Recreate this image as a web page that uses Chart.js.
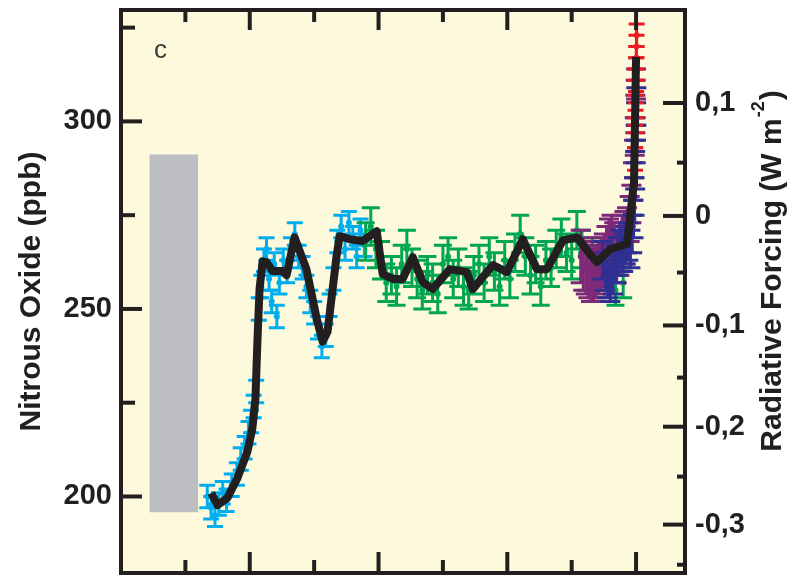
<!DOCTYPE html>
<html lang="en">
<head>
<meta charset="UTF-8">
<title>Nitrous Oxide</title>
<style>
    body { margin: 0; background: #fff; }
    #wrap { width: 792px; height: 577px; }
</style>
</head>
<body>
<div id="wrap"><canvas id="myChart" width="792" height="577"></canvas></div>

<script src="https://cdn.jsdelivr.net/npm/chart.js@4/dist/chart.umd.min.js"></script>
<script>
    // smoothed record (years relative to present, ppb)
    const blackYears = [-16500, -16250, -15870, -15480, -15090, -14900, -14780, -14700, -14620, -14500,
        -14350, -14120, -13730, -13570, -13260, -12800, -12400, -12170, -11980, -11630,
        -11510, -11120, -10620, -10070, -9840, -9450, -9060, -8670, -8280, -7900,
        -7230, -6570, -6340, -5560, -5020, -4400, -3850, -3460, -2840, -2290,
        -1790, -1520, -1010, -350, -230, -80, -40, 0];
    const blackN2o = [200.9, 197.7, 199.6, 204.9, 212.0, 218.1, 226.1, 242.0, 255.3, 262.7,
        262.5, 260.1, 260.1, 259.0, 269.1, 260.6, 247.4, 241.3, 243.9, 264.1,
        269.4, 268.6, 268.1, 270.7, 259.3, 258.0, 258.0, 263.8, 257.1, 255.3,
        260.6, 259.8, 255.3, 261.7, 259.8, 268.6, 260.6, 260.6, 268.3, 269.1,
        264.6, 262.5, 265.9, 267.3, 274.7, 283.7, 300.4, 317.2];

    // ice core measurements with error bars
    const cyanYears = [-16650, -16500, -16350, -16200, -16050, -15900, -15700, -15500, -15350, -15200,
        -15050, -14950, -14850, -14750, -14650, -14550, -14450, -14350, -14250, -14150,
        -14050, -13950, -13850, -13700, -13550, -13400, -13250, -13100, -12950, -12800,
        -12650, -12500, -12350, -12200, -12050, -11900, -11750, -11600, -11450, -11300,
        -11150, -11000, -10850, -10700, -10550];
    const cyanN2o = [200, 197, 195, 198, 201, 199, 203, 206, 210, 213,
        217, 220, 224, 228, 250, 256, 263, 266, 258, 252,
        262, 248, 257, 263, 260, 266, 270, 264, 261, 256,
        252, 249, 245, 240, 243, 251, 258, 268, 272, 266,
        273, 269, 264, 271, 267];
    const cyanErr = [3, 3, 3, 3, 3, 3, 3, 3, 3, 3,
        3, 3, 3, 3, 3, 3, 3, 3, 3, 3,
        3, 3, 3, 3, 3, 3, 3, 3, 3, 3,
        3, 3, 3, 3, 3, 3, 3, 3, 3, 3,
        3, 3, 3, 3, 3];

    const greenYears = [-10500, -10300, -10100, -9900, -9700, -9500, -9300, -9100, -8900, -8700,
        -8500, -8300, -8100, -7900, -7700, -7500, -7300, -7100, -6900, -6700,
        -6500, -6300, -6100, -5900, -5700, -5500, -5300, -5100, -4900, -4700,
        -4500, -4300, -4100, -3900, -3700, -3500, -3300, -3100, -2900, -2700,
        -2500, -2300, -2100, -1900, -1700, -1500, -800, -500];
    const greenN2o = [268, 272, 266, 263, 257, 259, 256, 262, 266, 261,
        258, 255, 259, 257, 254, 262, 264, 258, 261, 256,
        255, 259, 262, 257, 264, 260, 256, 263, 258, 265,
        270, 264, 259, 262, 256, 263, 261, 266, 269, 265,
        263, 271, 266, 260, 264, 261, 255, 257];
    const greenErr = [5, 5, 5, 5, 5, 5, 5, 5, 5, 5,
        5, 5, 5, 5, 5, 5, 5, 5, 5, 5,
        5, 5, 5, 5, 5, 5, 5, 5, 5, 5,
        5, 5, 5, 5, 5, 5, 5, 5, 5, 5,
        5, 5, 5, 5, 5, 5, 4, 4];

    const purpleYears = [-2150, -2050, -1950, -1850, -1750, -1650, -1550, -1450, -1350, -1250,
        -1150, -1050, -950, -850, -750, -650, -550, -450, -350, -250,
        -180, -120, -80, -50, -30, -15, 0];
    const purpleN2o = [264, 262, 261, 260, 259, 259, 260, 261, 262, 263,
        265, 267, 268, 266, 264, 266, 268, 269, 271, 274,
        278, 284, 290, 296, 302, 306, 310];
    const purpleErr = [7, 7, 7, 7, 7, 7, 7, 7, 7, 7,
        7, 7, 7, 7, 7, 7, 7, 7, 6, 6,
        5, 5, 5, 5, 5, 5, 4];

    const blueYears = [-1300, -1200, -1100, -1000, -900, -800, -700, -600, -500, -400,
        -300, -220, -150, -100, -60, -35, -15, 0, 10];
    const blueN2o = [263, 260, 258, 257, 259, 262, 264, 266, 265, 267,
        268, 266, 270, 274, 280, 287, 294, 300, 304];
    const blueErr = [5, 5, 5, 5, 5, 5, 5, 5, 5, 5,
        5, 5, 5, 5, 5, 5, 5, 5, 5];

    const redYears = [-40, -30, -20, -10, -5, 0, 5, 10, 15, 20];
    const redN2o = [290, 296, 300, 304, 308, 311, 314, 317, 320, 323];
    const redErr = [3, 3, 3, 3, 3, 3, 3, 3, 3, 3];

    // glacial-interglacial range (grey bar)
    const rangeYears = [-18900, -17000];
    const rangeN2o = [195.8, 291.2];

    // axes
    const leftMajor = [200, 250, 300];
    const leftMinor = [225, 275, 325];
    const rfLabels = ['-0,3', '-0,2', '-0,1', '0', '0,1'];
    const rfTickPos = [192.5, 218.6, 245.6, 274.8, 304.9];      // ppb equivalent
    const rfMinorPos = [181.8, 205.3, 231.7, 259.7, 289.0];
    const xMajor = [-15000, -10000, -5000, 0];
    const xMinor = [-17500, -12500, -7500, -2500];

    const ink = '#231f20';
    const family = "'Liberation Sans', Arial, Helvetica, sans-serif";

    const toPoints = (xs, ys) => xs.map((x, i) => ({ x: x, y: ys[i] }));

    function errSeries(label, xs, ys, errs, color, order, cap) {
        return {
            label: label,
            data: toPoints(xs, ys),
            errors: errs,
            capWidth: cap,
            showLine: false,
            borderColor: color,
            backgroundColor: color,
            pointRadius: 3,
            pointBorderWidth: 0,
            order: order
        };
    }

    const panelPlugin = {
        id: 'panel',
        beforeDatasetsDraw(chart) {
            const { ctx, chartArea: a } = chart;
            ctx.save();
            ctx.fillStyle = '#fdf9dc';
            ctx.fillRect(a.left, a.top, a.right - a.left, a.bottom - a.top);
            ctx.restore();
        },
        afterDatasetDraw(chart, args) {
            const ds = chart.data.datasets[args.index];
            if (!ds.errors) return;
            const { ctx, chartArea: a } = chart;
            const ys = chart.scales.y;
            ctx.save();
            ctx.beginPath();
            ctx.rect(a.left, a.top, a.right - a.left, a.bottom - a.top);
            ctx.clip();
            ctx.strokeStyle = ds.borderColor;
            ctx.lineWidth = 3;
            const w = ds.capWidth / 2;
            args.meta.data.forEach((pt, i) => {
                const v = ds.data[i].y, e = ds.errors[i];
                const y1 = ys.getPixelForValue(v + e), y2 = ys.getPixelForValue(v - e);
                ctx.beginPath();
                ctx.moveTo(pt.x, y1); ctx.lineTo(pt.x, y2);
                ctx.moveTo(pt.x - w, y1); ctx.lineTo(pt.x + w, y1);
                ctx.moveTo(pt.x - w, y2); ctx.lineTo(pt.x + w, y2);
                ctx.stroke();
            });
            ctx.restore();
        },
        afterDraw(chart) {
            const { ctx, chartArea: a, scales } = chart;
            ctx.save();
            ctx.strokeStyle = ink;
            ctx.lineWidth = 4;
            ctx.lineCap = 'butt';
            ctx.strokeRect(a.left, a.top, a.right - a.left, a.bottom - a.top);
            const tick = (x1, y1, x2, y2) => {
                ctx.beginPath(); ctx.moveTo(x1, y1); ctx.lineTo(x2, y2); ctx.stroke();
            };
            leftMajor.forEach(v => { const y = scales.y.getPixelForValue(v); tick(a.left, y, a.left + 21, y); });
            leftMinor.forEach(v => { const y = scales.y.getPixelForValue(v); tick(a.left, y, a.left + 14, y); });
            rfTickPos.forEach(v => { const y = scales.y.getPixelForValue(v); tick(a.right, y, a.right - 22, y); });
            rfMinorPos.forEach(v => { const y = scales.y.getPixelForValue(v); tick(a.right, y, a.right - 8, y); });
            xMajor.forEach(v => {
                const x = scales.x.getPixelForValue(v);
                tick(x, a.bottom, x, a.bottom - 21);
                tick(x, a.top, x, a.top + 20);
            });
            xMinor.forEach(v => {
                const x = scales.x.getPixelForValue(v);
                tick(x, a.bottom, x, a.bottom - 13);
                tick(x, a.top, x, a.top + 12);
            });

            // panel letter
            ctx.fillStyle = '#3b3838';
            ctx.font = '26px ' + family;
            ctx.textBaseline = 'alphabetic';
            ctx.fillText('c', 154, 58);

            // right axis title with superscript
            ctx.fillStyle = ink;
            ctx.translate(781, 271);
            ctx.rotate(-Math.PI / 2);
            const main = 'Radiative Forcing (W m', sup = '-2', close = ')';
            const big = 'bold 30px ' + family, small = 'bold 18px ' + family;
            ctx.font = big;
            const wMain = ctx.measureText(main).width, wClose = ctx.measureText(close).width;
            ctx.font = small;
            const wSup = ctx.measureText(sup).width;
            let x0 = -(wMain + wSup + wClose + 2) / 2;
            ctx.font = big;
            ctx.fillText(main, x0, 0);
            ctx.font = small;
            ctx.fillText(sup, x0 + wMain + 1, -17);
            ctx.font = big;
            ctx.fillText(close, x0 + wMain + wSup + 2, 0);
            ctx.restore();
        }
    };

    const noPad = s => { s.paddingTop = 0; s.paddingBottom = 0; };

    const ctx = document.getElementById('myChart').getContext('2d');
    const myChart = new Chart(ctx, {
        type: 'line',
        data: {
            datasets: [{
                label: 'Smoothed',
                data: toPoints(blackYears, blackN2o),
                borderColor: ink,
                borderWidth: 8,
                borderJoinStyle: 'round',
                pointRadius: 0,
                tension: 0,
                fill: false,
                order: 0
            },
            errSeries('Atmosphere', redYears, redN2o, redErr, '#ed1c24', 1, 16),
            errSeries('Core B', blueYears, blueN2o, blueErr, '#2e3192', 2, 20),
            errSeries('Core P', purpleYears, purpleN2o, purpleErr, '#7f2a78', 3, 20),
            errSeries('Core G', greenYears, greenN2o, greenErr, '#00a651', 4, 18),
            errSeries('Core C', cyanYears, cyanN2o, cyanErr, '#00aeef', 5, 16),
            {
                label: 'Range',
                data: toPoints(rangeYears, [rangeN2o[1], rangeN2o[1]]),
                borderWidth: 0,
                pointRadius: 0,
                backgroundColor: '#bdbec1',
                fill: { value: rangeN2o[0] },
                order: 6
            }]
        },
        options: {
            responsive: false,
            animation: false,
            devicePixelRatio: 1,
            layout: { padding: { top: 10, bottom: 2, left: 0, right: 0 } },
            scales: {
                x: {
                    type: 'linear',
                    min: -20000,
                    max: 1900,
                    display: false
                },
                y: {
                    type: 'linear',
                    position: 'left',
                    min: 179.6,
                    max: 329.7,
                    afterFit: s => { s.width = 121; noPad(s); },
                    afterBuildTicks: s => { s.ticks = leftMajor.map(v => ({ value: v })); },
                    grid: { display: false, drawTicks: false },
                    border: { display: false },
                    ticks: {
                        padding: 9,
                        color: ink,
                        font: { family: family, size: 29, weight: 'bold' }
                    },
                    title: {
                        display: true,
                        text: 'Nitrous Oxide (ppb)',
                        color: ink,
                        padding: { top: 14, bottom: 0 },
                        font: { family: family, size: 30, weight: 'bold' }
                    }
                },
                y2: {
                    type: 'linear',
                    position: 'right',
                    display: true,
                    min: 179.6,
                    max: 329.7,
                    afterFit: s => { s.width = 107; noPad(s); },
                    afterBuildTicks: s => { s.ticks = rfTickPos.map(v => ({ value: v })); },
                    grid: { display: false, drawTicks: false },
                    border: { display: false },
                    ticks: {
                        padding: 10,
                        autoSkip: false,
                        color: ink,
                        font: { family: family, size: 29, weight: 'bold' },
                        callback: (value, index) => rfLabels[index]
                    }
                }
            },
            plugins: {
                legend: { display: false },
                tooltip: { enabled: false }
            }
        },
        plugins: [panelPlugin]
    });
</script>

</body>
</html>
